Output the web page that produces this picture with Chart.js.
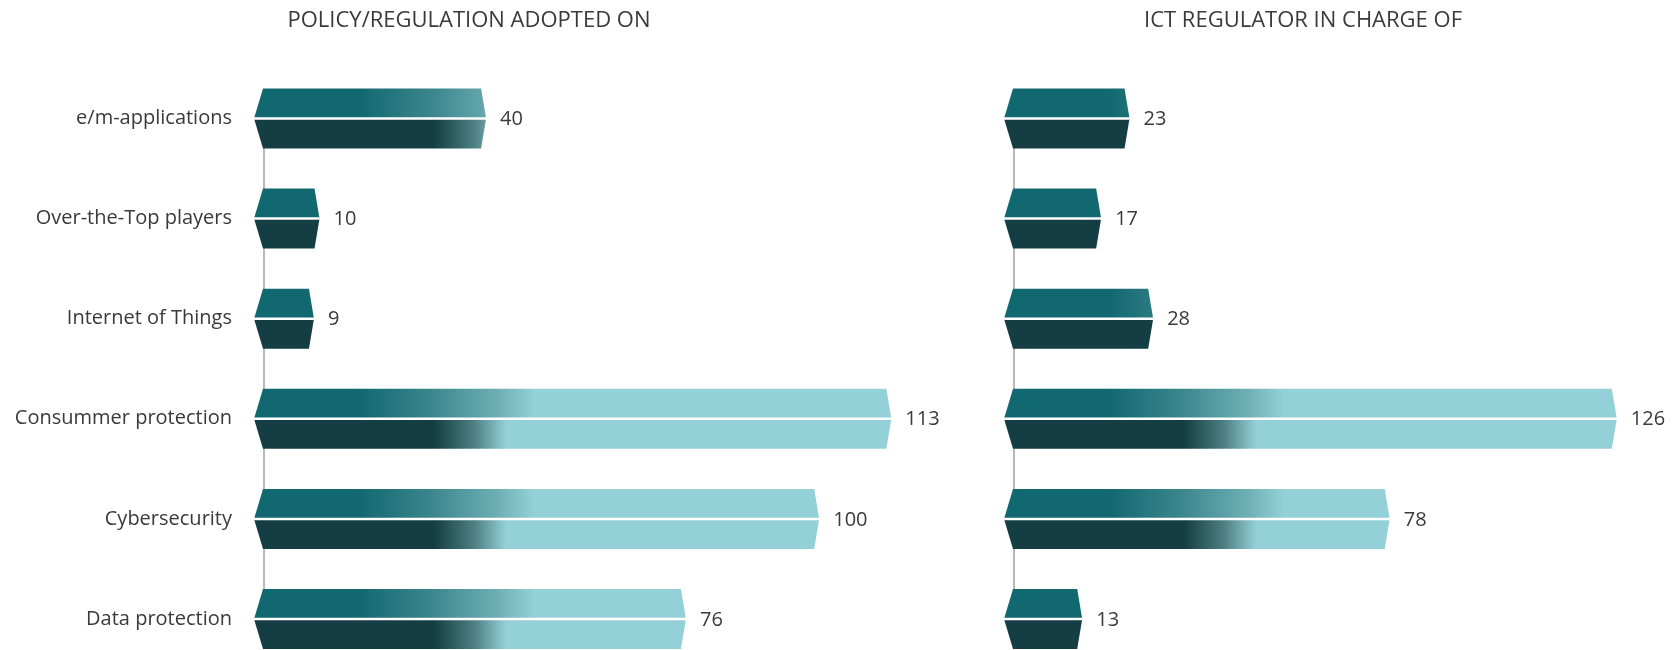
<!DOCTYPE html>
<html><head><meta charset="utf-8">
<script src="https://cdn.jsdelivr.net/npm/chart.js@4.4.0/dist/chart.umd.min.js"></script>
<style>
html,body{margin:0;padding:0;background:#fff;width:1680px;height:650px;overflow:hidden}
#left{position:absolute;left:0;top:0;width:960px;height:650px}
#right{position:absolute;left:940px;top:0;width:740px;height:650px}
</style></head><body>
<div id="left"><canvas id="c1"></canvas></div>
<div id="right"><canvas id="c2"></canvas></div>
<script>
const categories = ['e/m-applications', 'Over-the-Top players', 'Internet of Things', 'Consummer protection', 'Cybersecurity', 'Data protection'];
const policyValues = [40, 10, 9, 113, 100, 76];
const regulatorValues = [23, 17, 28, 126, 78, 13];
const panelTitles = ['POLICY/REGULATION ADOPTED ON', 'ICT REGULATOR IN CHARGE OF'];

const FONT = '"Open Sans", "Segoe UI", sans-serif';
const TEXT = '#3a3a3a';

const prismBars = {
  id: 'prismBars',
  afterDatasetsDraw(chart) {
    const ctx = chart.ctx;
    const meta = chart.getDatasetMeta(0);
    const base = chart.chartArea.left;
    const gTop = ctx.createLinearGradient(base, 0, base + 270, 0);
    gTop.addColorStop(0, '#126870');
    gTop.addColorStop(95 / 270, '#126870');
    gTop.addColorStop(170 / 270, '#3d878e');
    gTop.addColorStop(235 / 270, '#6fb0b6');
    gTop.addColorStop(1, '#94d0d7');
    const gBot = ctx.createLinearGradient(base, 0, base + 242, 0);
    gBot.addColorStop(0, '#143e43');
    gBot.addColorStop(170 / 242, '#143e43');
    gBot.addColorStop(210 / 242, '#4d7f83');
    gBot.addColorStop(1, '#94d0d7');
    meta.data.forEach((bar, i) => {
      const p = bar.getProps(['x', 'y', 'height'], true);
      const x = p.x, y = p.y, h = p.height;
      const top = y - h / 2, bot = y + h / 2;
      const lx = base - 10, cx = base - 1, rx = x - 5;
      ctx.save();
      ctx.beginPath();
      ctx.moveTo(lx, y); ctx.lineTo(cx, top); ctx.lineTo(rx, top); ctx.lineTo(x, y); ctx.closePath();
      ctx.fillStyle = gTop; ctx.fill();
      ctx.beginPath();
      ctx.moveTo(lx, y); ctx.lineTo(x, y); ctx.lineTo(rx, bot); ctx.lineTo(cx, bot); ctx.closePath();
      ctx.fillStyle = gBot; ctx.fill();
      ctx.strokeStyle = '#ffffff'; ctx.lineWidth = 2.5;
      ctx.beginPath(); ctx.moveTo(lx, y); ctx.lineTo(x, y); ctx.stroke();
      ctx.fillStyle = TEXT;
      ctx.font = '20px ' + FONT;
      ctx.textAlign = 'left'; ctx.textBaseline = 'middle';
      ctx.fillText(String(chart.data.datasets[0].data[i]), x + 14, y + 1);
      ctx.restore();
    });
  }
};

function makeChart(id, values, title, showLabels, yWidth, padRight, xMin, xMax) {
  return new Chart(document.getElementById(id), {
    type: 'bar',
    data: {
      labels: categories,
      datasets: [{ data: values, backgroundColor: 'rgba(0,0,0,0)', borderWidth: 0, barThickness: 60, clip: false }]
    },
    options: {
      indexAxis: 'y',
      responsive: true, maintainAspectRatio: false, animation: false, devicePixelRatio: 1,
      layout: { padding: { top: 0, right: padRight, bottom: 31, left: 0 } },
      plugins: {
        legend: { display: false }, tooltip: { enabled: false },
        title: { display: true, text: title, color: TEXT, font: { family: FONT, size: 22, weight: '400' }, padding: { top: 8, bottom: 84 } }
      },
      scales: {
        x: { display: false, min: xMin, max: xMax },
        y: {
          offset: false,
          grid: { display: false },
          border: { display: true, color: '#b9b9b9', width: 2 },
          ticks: { display: showLabels, color: TEXT, font: { family: FONT, size: 20 }, padding: 24 },
          afterFit(s) { s.width = yWidth; s.paddingTop = 0; s.paddingBottom = 0; }
        }
      }
    },
    plugins: [prismBars]
  });
}

makeChart('c1', policyValues, panelTitles[0], true, 264, 22, 0, 121.4);
makeChart('c2', regulatorValues, panelTitles[1], false, 74, 14, -1.42, 136.4);
</script>
</body></html>
